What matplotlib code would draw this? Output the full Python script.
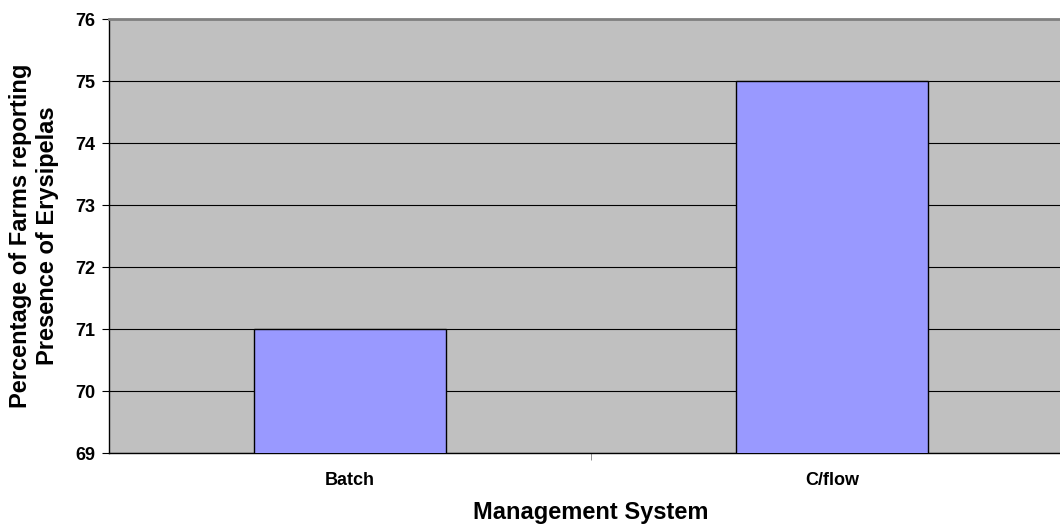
import matplotlib.pyplot as plt
import numpy as np

plt.rcParams['font.family'] = ['Liberation Sans', 'DejaVu Sans']

categories = ['Batch', 'C/flow']
values = [71, 75]
y_ticks = [69, 70, 71, 72, 73, 74, 75, 76]

fig = plt.figure(figsize=(10.6, 5.27), dpi=100)
ax = fig.add_axes([109 / 1060, 1 - 453 / 527, 964 / 1060, 434 / 527])
ax.set_facecolor('#c0c0c0')

x = np.arange(len(categories))
ax.bar(x, values, width=0.4, color='#9999ff', edgecolor='black', linewidth=1, zorder=3)

ax.set_xlim(-0.5, 1.5)
ax.set_ylim(69, 76)
ax.set_yticks(y_ticks)
ax.set_yticklabels([str(v) for v in y_ticks], fontweight='bold', fontsize=13)
ax.yaxis.grid(True, color='black', linewidth=0.8, zorder=1)

ax.set_xticks(x)
ax.set_xticklabels(categories, fontweight='bold', fontsize=13)
ax.tick_params(axis='x', length=0, pad=14)
ax.set_xticks([0.5], minor=True)
ax.tick_params(axis='x', which='minor', length=5, color='#808080')
ax.tick_params(axis='y', length=5, width=0.8, pad=5)

ax.spines['right'].set_visible(False)
ax.spines['top'].set_color('#808080')
ax.spines['top'].set_linewidth(2)
ax.spines['left'].set_linewidth(1)
ax.spines['bottom'].set_linewidth(1)

ax.set_xlabel('Management System', fontweight='bold', fontsize=17, va='center')
ax.xaxis.set_label_coords(482 / 964, -(513 - 453) / 434)
ax.set_ylabel('Percentage of Farms reporting\nPresence of Erysipelas', fontweight='bold', fontsize=17,
              va='center', ha='center')
ax.yaxis.set_label_coords(-(109 - 34) / 964, 0.5)

fig.savefig('out.png', dpi=100)
